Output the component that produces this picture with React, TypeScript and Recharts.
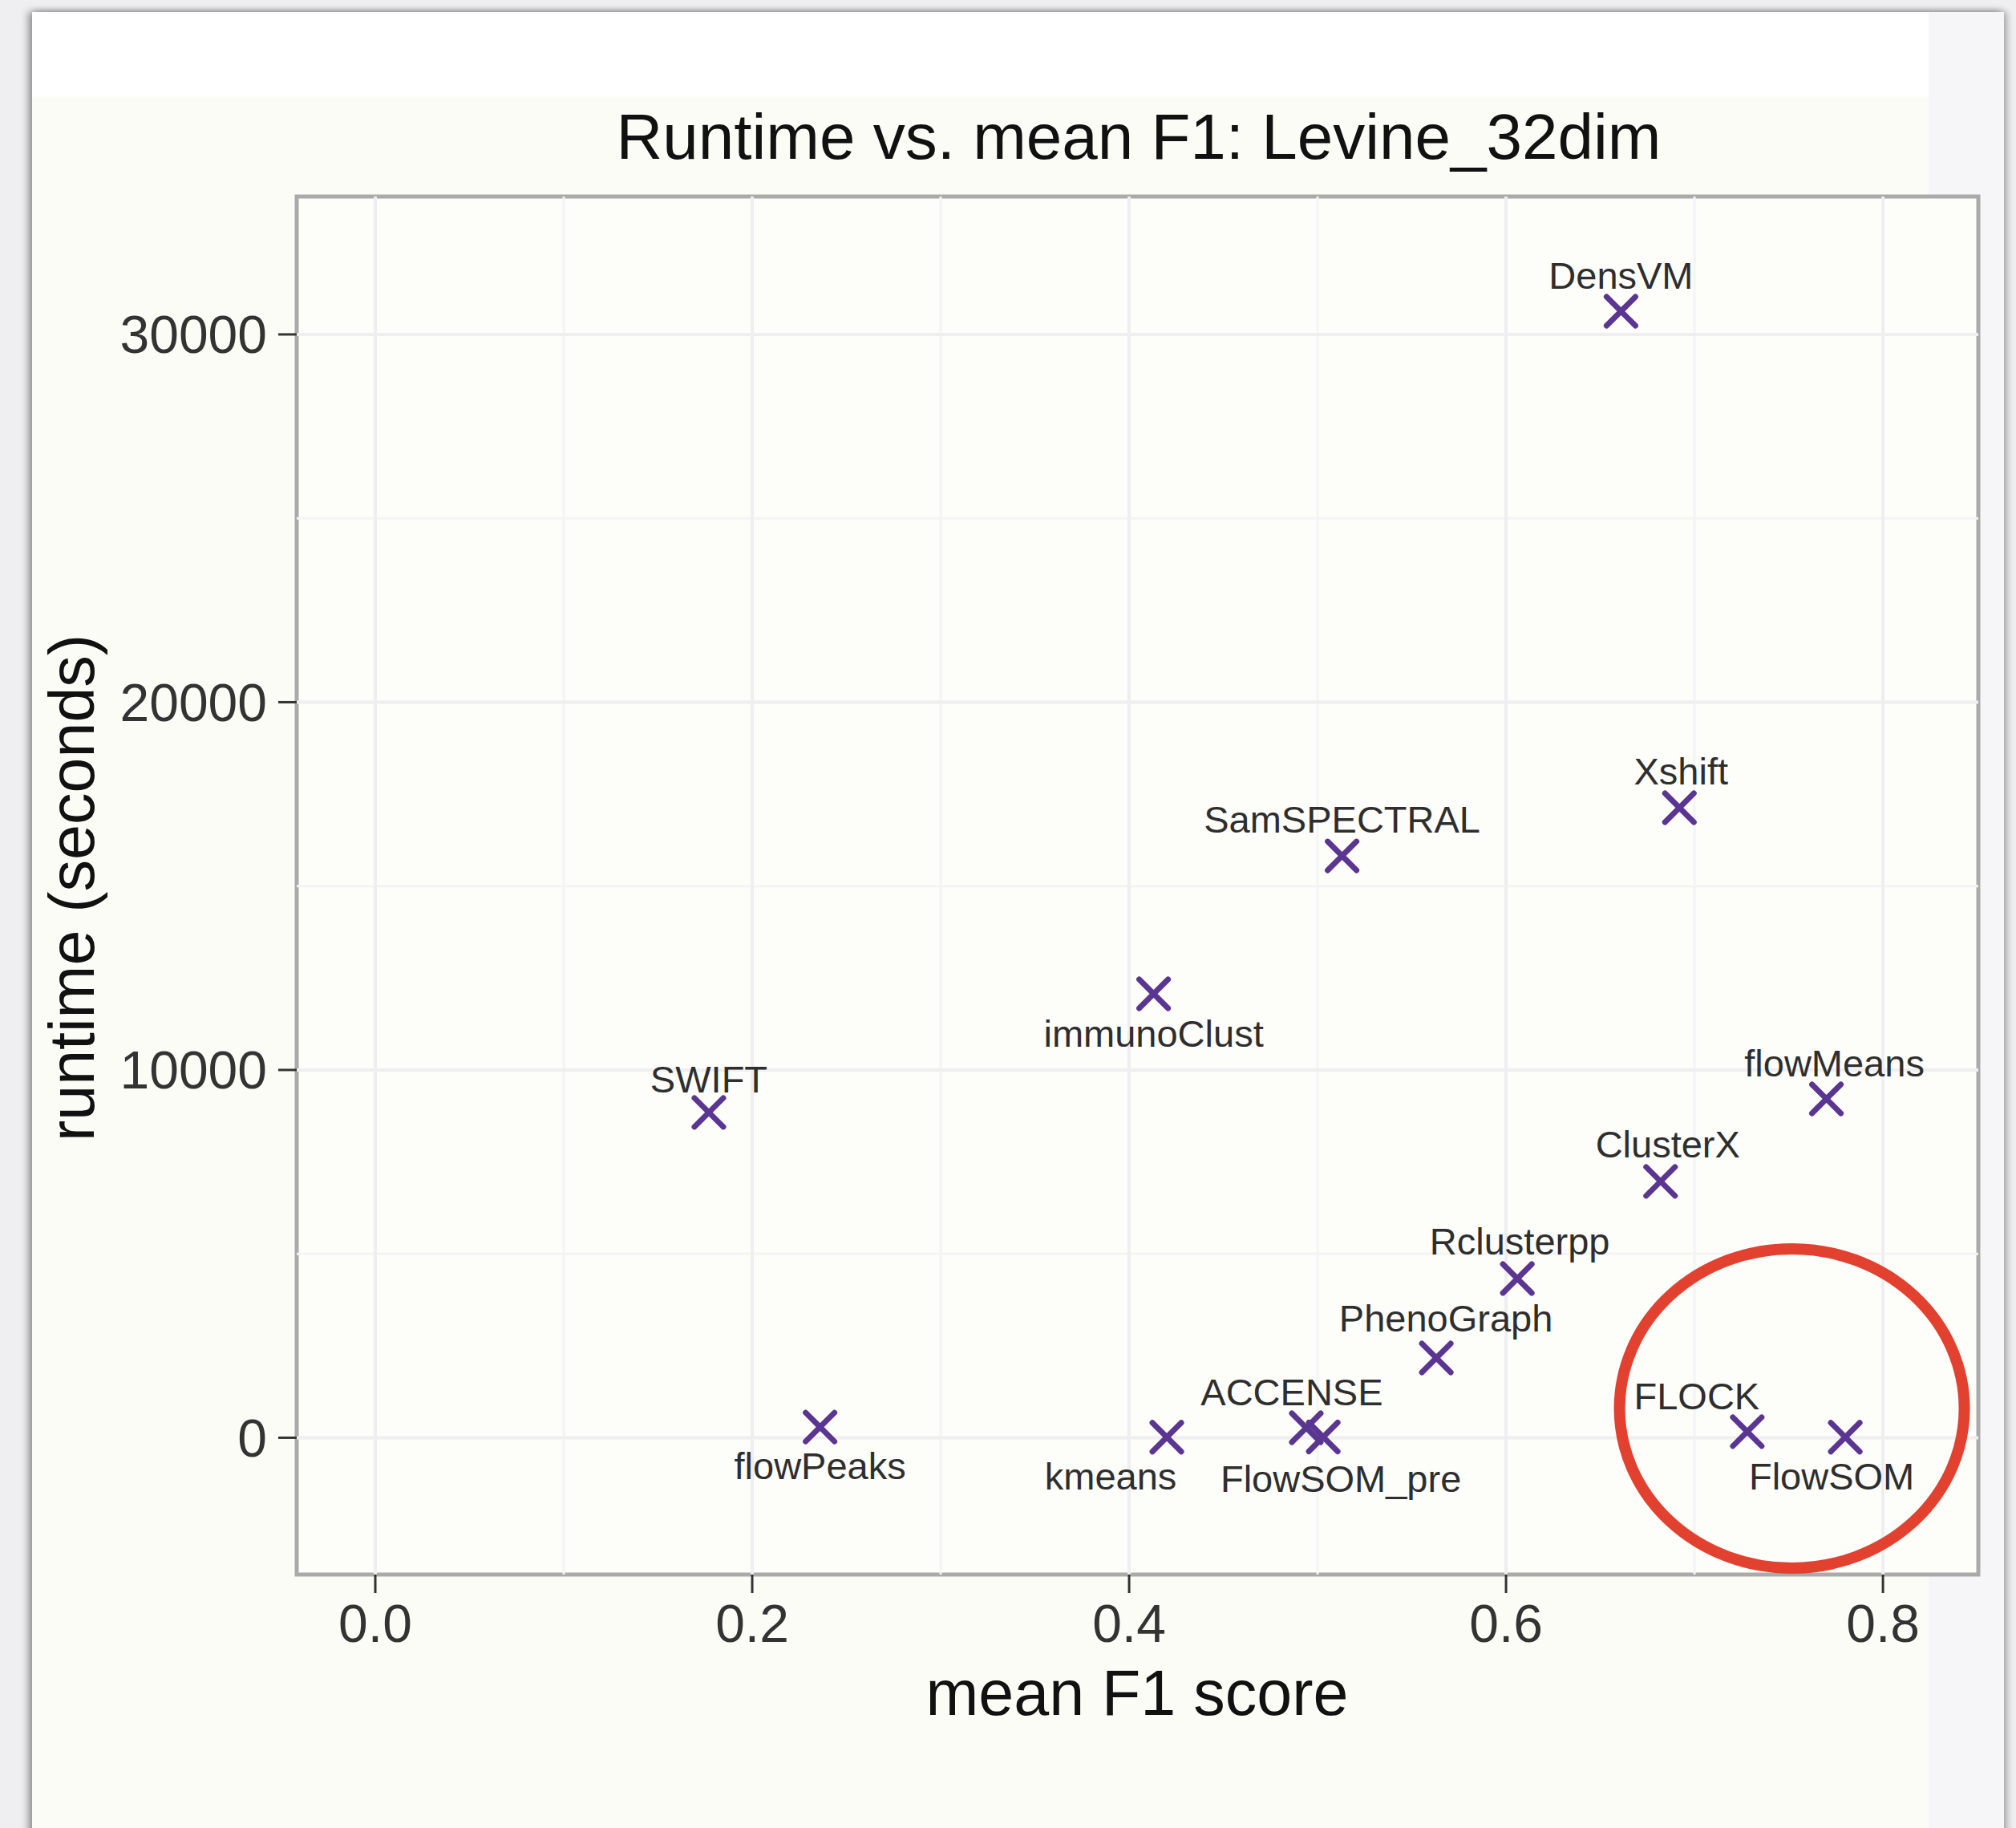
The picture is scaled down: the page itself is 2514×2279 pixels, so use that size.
import { ScatterChart, Scatter, XAxis, YAxis, ReferenceLine, ReferenceArea, ReferenceDot } from "recharts";

// clustering methods: mean F1 score vs. runtime in seconds
const methods = [
  "DensVM", "Xshift", "SamSPECTRAL", "immunoClust", "SWIFT", "flowMeans", "ClusterX", "Rclusterpp",
  "PhenoGraph", "flowPeaks", "kmeans", "ACCENSE", "FlowSOM_pre", "FLOCK", "FlowSOM",
];
const meanF1 = [0.661, 0.692, 0.513, 0.413, 0.177, 0.77, 0.682, 0.606, 0.563, 0.236, 0.42, 0.494, 0.503, 0.728, 0.78];
const runtimeSec = [30630, 17130, 15820, 12070, 8845, 9215, 6970, 4330, 2170, 290, 15, 270, 20, 165, 15];

const xMajor = [0, 0.2, 0.4, 0.6, 0.8];
const xMinor = [0.1, 0.3, 0.5, 0.7];
const yMajor = [0, 10000, 20000, 30000];
const yMinor = [5000, 15000, 25000];

const xDomain: [number, number] = [-0.0417, 0.8506];
const yDomain: [number, number] = [-3720, 33750];

// the highlighted FLOCK / FlowSOM group
const highlight = { f1: 0.7517, runtime: 796 };

// label nudges in px (dx from the point, dy to the text baseline)
const labelNudge: Record<string, [number, number]> = {
  DensVM: [0, -28],
  Xshift: [2, -29],
  SamSPECTRAL: [0, -29],
  immunoClust: [0, 66],
  SWIFT: [0, -25],
  flowMeans: [10, -28],
  ClusterX: [9, -30],
  Rclusterpp: [3, -30],
  PhenoGraph: [12, -33],
  flowPeaks: [0, 65],
  kmeans: [-70, 65],
  ACCENSE: [-18, -28],
  FlowSOM_pre: [22, 68],
  FLOCK: [-63, -28],
  FlowSOM: [-17, 65],
};

const data = methods.map((name, i) => ({ name, f1: meanF1[i], runtime: runtimeSec[i] }));

const FONT = "'Liberation Sans', Arial, Helvetica, sans-serif";
const PURPLE = "#5a3592";

function CrossMark(props: any) {
  const { cx, cy, payload } = props;
  if (cx == null || cy == null) return null;
  const [dx, dy] = labelNudge[payload.name] ?? [0, -29];
  const a = 18;
  return (
    <g>
      <path
        d={`M${cx - a},${cy - a}L${cx + a},${cy + a}M${cx - a},${cy + a}L${cx + a},${cy - a}`}
        stroke={PURPLE}
        strokeWidth={7}
        strokeLinecap="round"
        fill="none"
      />
      <text x={cx + dx} y={cy + dy} textAnchor="middle" fontSize={47} fontFamily={FONT} fill="#2e2e2e">
        {payload.name}
      </text>
    </g>
  );
}

function HighlightRing(props: any) {
  const { cx, cy } = props;
  if (cx == null || cy == null) return null;
  return <ellipse cx={cx} cy={cy} rx={215} ry={199} fill="none" stroke="#e2412f" strokeWidth={14} />;
}

export default function App() {
  const W = 2514;
  const H = 2279;
  return (
    <div style={{ position: "relative", width: W, height: H, background: "#efeff1", overflow: "hidden" }}>
      <style>{`body{margin:0}`}</style>
      {/* page panel behind the figure */}
      <div
        style={{
          position: "absolute",
          left: 40,
          top: 15,
          width: 2459,
          height: 2320,
          background: "#ffffff",
          boxShadow: "-5px 0 9px rgba(0,0,0,0.35), 0 -2px 8px rgba(0,0,0,0.12), 5px 0 8px rgba(0,0,0,0.2)",
        }}
      >
        <div style={{ position: "absolute", left: 0, top: 105, width: 2365, height: 2300, background: "#fcfcf7" }} />
        <div style={{ position: "absolute", left: 2365, top: 0, width: 94, height: 2320, background: "#f6f6f9" }} />
      </div>

      <div style={{ position: "absolute", left: 0, top: 0 }}>
        <ScatterChart width={W} height={H} margin={{ top: 245, right: 47, bottom: 216, left: 170 }}>
          <ReferenceArea
            x1={xDomain[0]}
            x2={xDomain[1]}
            y1={yDomain[0]}
            y2={yDomain[1]}
            fill="#fdfdfa"
            fillOpacity={1}
            stroke="none"
          />
          {xMinor.map((v) => (
            <ReferenceLine key={`xm${v}`} x={v} stroke="#f5f4f5" strokeWidth={3} />
          ))}
          {yMinor.map((v) => (
            <ReferenceLine key={`ym${v}`} y={v} stroke="#f5f4f5" strokeWidth={3} />
          ))}
          {xMajor.map((v) => (
            <ReferenceLine key={`xM${v}`} x={v} stroke="#efeef0" strokeWidth={4} />
          ))}
          {yMajor.map((v) => (
            <ReferenceLine key={`yM${v}`} y={v} stroke="#efeef0" strokeWidth={4} />
          ))}
          <XAxis
            type="number"
            dataKey="f1"
            domain={xDomain}
            ticks={xMajor}
            allowDataOverflow
            interval={0}
            height={100}
            axisLine={false}
            tickSize={23}
            tickMargin={14}
            tickLine={{ stroke: "#333", strokeWidth: 3 }}
            tick={{ fill: "#333", fontSize: 66, fontFamily: FONT }}
            tickFormatter={(v: number) => v.toFixed(1)}
          />
          <YAxis
            type="number"
            dataKey="runtime"
            domain={yDomain}
            ticks={yMajor}
            allowDataOverflow
            interval={0}
            width={200}
            axisLine={false}
            tickSize={23}
            tickMargin={14}
            tickLine={{ stroke: "#333", strokeWidth: 3 }}
            tick={{ fill: "#333", fontSize: 66, fontFamily: FONT }}
          />
          <Scatter data={data} shape={CrossMark} isAnimationActive={false} />
          <ReferenceArea
            x1={xDomain[0]}
            x2={xDomain[1]}
            y1={yDomain[0]}
            y2={yDomain[1]}
            fill="none"
            stroke="#aaaaaa"
            strokeWidth={5}
          />
          <ReferenceDot x={highlight.f1} y={highlight.runtime} r={1} shape={HighlightRing} />
        </ScatterChart>
      </div>

      {/* titles */}
      <svg width={W} height={H} style={{ position: "absolute", left: 0, top: 0, pointerEvents: "none" }}>
        <text x={1420} y={198} textAnchor="middle" fontSize={80} fontFamily={FONT} fill="#111">
          Runtime vs. mean F1: Levine_32dim
        </text>
        <text x={1418} y={2138} textAnchor="middle" fontSize={79} fontFamily={FONT} fill="#111">
          mean F1 score
        </text>
        <text
          x={117}
          y={1107}
          textAnchor="middle"
          fontSize={79}
          fontFamily={FONT}
          fill="#111"
          transform="rotate(-90 117 1107)"
        >
          runtime (seconds)
        </text>
      </svg>
    </div>
  );
}
